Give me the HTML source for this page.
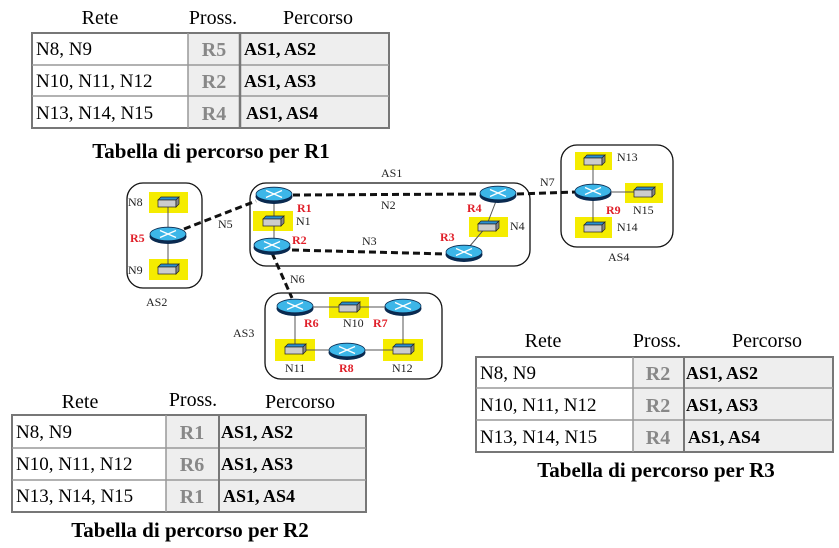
<!DOCTYPE html>
<html><head><meta charset="utf-8"><style>
html,body{margin:0;padding:0;background:#fff;}
svg{display:block;}
.t{font-family:"Liberation Serif",serif;}
</style></head><body>
<svg width="839" height="548" viewBox="0 0 839 548" xmlns="http://www.w3.org/2000/svg" class="t">
<defs>
<g id="rt">
<ellipse cx="0" cy="2.5" rx="18.5" ry="7.5" fill="#0a2a50"/>
<ellipse cx="0" cy="0" rx="18" ry="6.8" fill="#3cb6e8" stroke="#0a2a50" stroke-width="0.8"/>
<path d="M-8,-3.5 L8,3.5 M-8,3.5 L8,-3.5" stroke="#fff" stroke-width="1.3"/>
</g>
<g id="sw">
<polygon points="-10,-3 -7,-6 11,-6 8,-3" fill="#2a8fd0" stroke="#222" stroke-width="0.7"/>
<rect x="-10" y="-3" width="18" height="7" fill="#ccc" stroke="#222" stroke-width="0.7"/>
<polygon points="8,-3 11,-6 11,1 8,4" fill="#888" stroke="#222" stroke-width="0.7"/>
</g>
</defs>

<!-- Table R1 -->
<g font-size="20">
<text x="100" y="24" text-anchor="middle">Rete</text>
<text x="213" y="24" text-anchor="middle">Pross.</text>
<text x="318" y="24" text-anchor="middle">Percorso</text>
</g>
<rect x="188" y="33" width="201" height="95" fill="#eee"/>
<rect x="32" y="33" width="357" height="95" fill="none" stroke="#777" stroke-width="2"/>
<path d="M32,65 H389 M32,96 H389 M188,33 V128" stroke="#999" stroke-width="1.5"/>
<path d="M240,33 V128" stroke="#777" stroke-width="2.5"/>
<g font-size="19"><text x="36" y="55">N8, N9</text><text x="36" y="87">N10, N11, N12</text><text x="36" y="119">N13, N14, N15</text></g>
<g font-size="20" font-weight="bold" fill="#888" text-anchor="middle"><text x="214" y="56">R5</text><text x="214" y="88">R2</text><text x="214" y="120">R4</text></g>
<g font-size="18" font-weight="bold"><text x="244" y="55">AS1, AS2</text><text x="244" y="87">AS1, AS3</text><text x="246" y="119">AS1, AS4</text></g>
<text x="211" y="158" font-size="21" font-weight="bold" text-anchor="middle">Tabella di percorso per R1</text>

<!-- Table R3 -->
<g font-size="20">
<text x="543" y="347" text-anchor="middle">Rete</text>
<text x="657" y="347" text-anchor="middle">Pross.</text>
<text x="767" y="347" text-anchor="middle">Percorso</text>
</g>
<rect x="633" y="357" width="200" height="95" fill="#eee"/>
<rect x="476" y="357" width="357" height="95" fill="none" stroke="#777" stroke-width="2"/>
<path d="M476,388 H833 M476,420 H833 M633,357 V452" stroke="#999" stroke-width="1.5"/>
<path d="M684,357 V452" stroke="#777" stroke-width="2"/>
<g font-size="19"><text x="480" y="379">N8, N9</text><text x="480" y="411">N10, N11, N12</text><text x="480" y="443">N13, N14, N15</text></g>
<g font-size="20" font-weight="bold" fill="#888" text-anchor="middle"><text x="658" y="380">R2</text><text x="658" y="412">R2</text><text x="658" y="444">R4</text></g>
<g font-size="18" font-weight="bold"><text x="686" y="379">AS1, AS2</text><text x="686" y="411">AS1, AS3</text><text x="688" y="443">AS1, AS4</text></g>
<text x="656" y="477" font-size="21" font-weight="bold" text-anchor="middle">Tabella di percorso per R3</text>

<!-- Table R2 -->
<g font-size="20">
<text x="80" y="408" text-anchor="middle">Rete</text>
<text x="193" y="406" text-anchor="middle">Pross.</text>
<text x="300" y="408" text-anchor="middle">Percorso</text>
</g>
<rect x="166" y="415" width="200" height="97" fill="#eee"/>
<rect x="12" y="415" width="354" height="97" fill="none" stroke="#777" stroke-width="2"/>
<path d="M12,448 H366 M12,480 H366 M166,415 V512" stroke="#999" stroke-width="1.5"/>
<path d="M219,415 V512" stroke="#777" stroke-width="2"/>
<g font-size="19"><text x="16" y="438">N8, N9</text><text x="16" y="470">N10, N11, N12</text><text x="16" y="502">N13, N14, N15</text></g>
<g font-size="20" font-weight="bold" fill="#888" text-anchor="middle"><text x="192" y="439">R1</text><text x="192" y="471">R6</text><text x="192" y="503">R1</text></g>
<g font-size="18" font-weight="bold"><text x="221" y="438">AS1, AS2</text><text x="221" y="470">AS1, AS3</text><text x="223" y="502">AS1, AS4</text></g>
<text x="190" y="537" font-size="21" font-weight="bold" text-anchor="middle">Tabella di percorso per R2</text>

<!-- AS boxes -->
<g fill="none" stroke="#111" stroke-width="1.3">
<rect x="127" y="183" width="75" height="105" rx="16"/>
<rect x="250" y="183" width="280" height="83" rx="16"/>
<rect x="265" y="293" width="177" height="86" rx="16"/>
<rect x="561" y="145" width="112" height="102" rx="16"/>
</g>

<!-- yellow highlight -->
<g fill="#f5ec00">
<rect x="149" y="192" width="39" height="21"/>
<rect x="149" y="259" width="39" height="21"/>
<rect x="253" y="211" width="40" height="20"/>
<rect x="469" y="217" width="39" height="20"/>
<rect x="329" y="297" width="40" height="21"/>
<rect x="275" y="339" width="40" height="22"/>
<rect x="383" y="339" width="40" height="22"/>
<rect x="575" y="152" width="37" height="18"/>
<rect x="625" y="183" width="38" height="20"/>
<rect x="575" y="217" width="37" height="21"/>
</g>

<!-- solid lines -->
<g stroke="#555" stroke-width="1" fill="none">
<path d="M168,203 V268"/>
<path d="M274,197 V246"/>
<path d="M498,196 L486,227 L464,253"/>
<path d="M295,309 V350 L347,350 L403,350 V307 M295,307 H403"/>
<path d="M593,161 V228 M593,192 H644"/>
</g>

<!-- dashed links -->
<g stroke="#111" stroke-width="3" stroke-dasharray="7,4" fill="none">
<path d="M184,229 L256,201"/>
<path d="M293,195 L480,194"/>
<path d="M517,194 L577,192"/>
<path d="M292,250 L447,254"/>
<path d="M272,253 L292,298"/>
</g>

<!-- switches -->
<use href="#sw" x="168" y="203"/>
<use href="#sw" x="168" y="270"/>
<use href="#sw" x="273" y="222"/>
<use href="#sw" x="488" y="227"/>
<use href="#sw" x="349" y="308"/>
<use href="#sw" x="295" y="350"/>
<use href="#sw" x="403" y="350"/>
<use href="#sw" x="594" y="161"/>
<use href="#sw" x="644" y="193"/>
<use href="#sw" x="594" y="228"/>

<!-- routers -->
<use href="#rt" x="168" y="234"/>
<use href="#rt" x="274" y="194"/>
<use href="#rt" x="272" y="245"/>
<use href="#rt" x="498" y="193"/>
<use href="#rt" x="464" y="252"/>
<use href="#rt" x="295" y="306"/>
<use href="#rt" x="403" y="306"/>
<use href="#rt" x="347" y="350"/>
<use href="#rt" x="593" y="191"/>

<!-- labels -->
<g font-size="12" fill="#222">
<text x="128" y="206">N8</text>
<text x="128" y="274">N9</text>
<text x="146" y="306">AS2</text>
<text x="218" y="228">N5</text>
<text x="381" y="177">AS1</text>
<text x="296" y="225">N1</text>
<text x="381" y="209">N2</text>
<text x="362" y="245">N3</text>
<text x="510" y="230">N4</text>
<text x="290" y="283">N6</text>
<text x="540" y="186">N7</text>
<text x="233" y="337">AS3</text>
<text x="343" y="327">N10</text>
<text x="285" y="372">N11</text>
<text x="392" y="372">N12</text>
<text x="617" y="161">N13</text>
<text x="633" y="214">N15</text>
<text x="617" y="231">N14</text>
<text x="608" y="261">AS4</text>
</g>
<g font-size="12" font-weight="bold" fill="#e0202a">
<text x="130" y="242">R5</text>
<text x="297" y="212">R1</text>
<text x="292" y="244">R2</text>
<text x="467" y="212">R4</text>
<text x="440" y="241">R3</text>
<text x="304" y="327">R6</text>
<text x="373" y="327">R7</text>
<text x="339" y="372">R8</text>
<text x="606" y="214">R9</text>
</g>
</svg>
</body></html>
